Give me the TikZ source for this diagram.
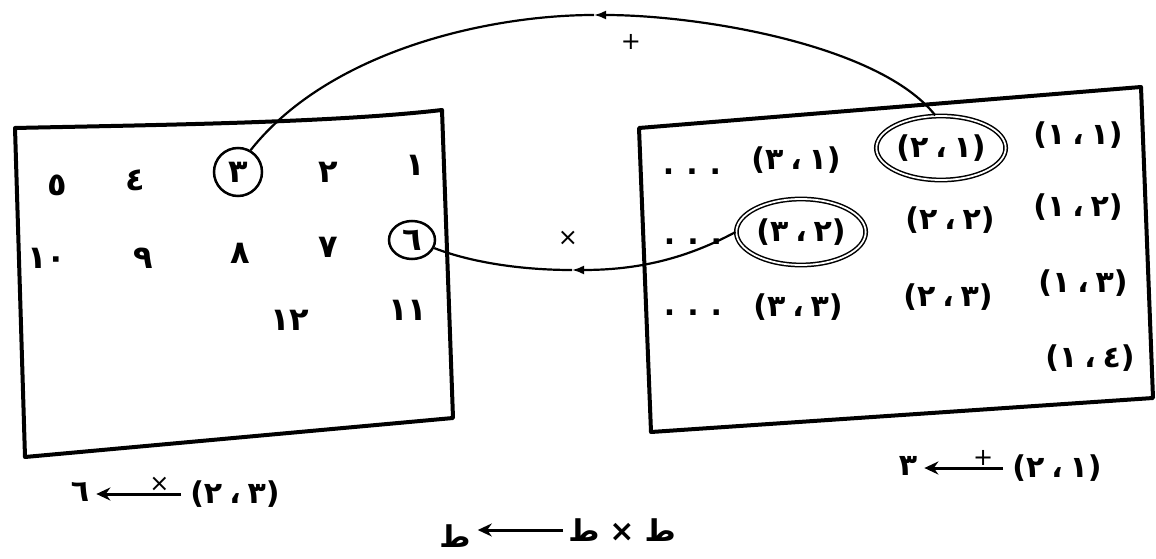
\documentclass[tikz,border=0pt]{standalone}
\usepackage{fontspec}
\usetikzlibrary{shapes.geometric,arrows.meta}
\newfontfamily\arfont[Script=Arabic]{DejaVu Sans}
\TeXXeTstate=1
% #1 = left digit as seen, #2 = right digit as seen (logical order: #2 then #1)
\newcommand\mypair[2]{\beginR(#2\hspace{7pt}،\hspace{7pt}#1)\endR}
\begin{document}
\begin{tikzpicture}[x=1pt,y=-1pt,
  lbl/.style={font=\arfont\bfseries\fontsize{30}{32}\selectfont, inner sep=1pt},
  num/.style={font=\arfont\bfseries\fontsize{32}{34}\selectfont, inner sep=1pt},
  op/.style={font=\arfont\fontsize{24}{26}\selectfont, inner sep=1pt},
  frame/.style={line width=4pt, line join=round},
  conn/.style={line width=2.2pt},
  ring/.style={draw, ellipse, double, double distance=1.8pt, line width=1.5pt},
  lab/.style={line width=3pt, -{Stealth[length=14pt,width=13pt]}},
  tipc/.style={-{Latex[length=12pt,width=9pt]}}
]
\useasboundingbox (0,0) rectangle (1156,559);
\fill[white] (0,0) rectangle (1156,559);

% frames
\draw[frame] (15,128) .. controls (150,125) and (330,123) .. (442,110) -- (453,418) -- (25,457) -- cycle;
\draw[frame] (639,128) -- (1141,87) -- (1153,398) -- (651,432) -- cycle;

% left set
\node[num] (d1) at (415,165) {١};
\node[num] (d2) at (328,172) {٢};
\node[num, draw, circle, line width=2.5pt, minimum size=48pt] (n3) at (238,172) {٣};
\node[num] (d4) at (135,180) {٤};
\node[num] (d5) at (57,185) {٥};
\node[num, draw, ellipse, line width=2.5pt, minimum width=46pt, minimum height=38pt] (n6) at (412,240) {٦};
\node[num] (d7) at (328,247) {٧};
\node[num] (d8) at (240,253) {٨};
\node[num] (d9) at (143,258) {٩};
\node[num] (d10) at (47,258) {١٠};
\node[num] (d11) at (408,310) {١١};
\node[num] (d12) at (290,320) {١٢};

% right set
\node[lbl] (p11) at (1078,135) {\mypair{١}{١}};
\node[lbl, ring, minimum width=118pt, minimum height=64pt] (p21) at (941,148) {\mypair{٢}{١}};
\node[lbl] (p31) at (796,160) {\mypair{٣}{١}};
\node[lbl] (e1) at (692,172) {.\hspace{12pt}.\hspace{12pt}.};
\node[lbl] (p12) at (1078,207) {\mypair{١}{٢}};
\node[lbl] (p22) at (950,220) {\mypair{٢}{٢}};
\node[lbl, ring, minimum width=118pt, minimum height=66pt] (p32) at (801,232) {\mypair{٣}{٢}};
\node[lbl] (e2) at (693,242) {.\hspace{12pt}.\hspace{12pt}.};
\node[lbl] (p13) at (1083,283) {\mypair{١}{٣}};
\node[lbl] (p23) at (948,297) {\mypair{٢}{٣}};
\node[lbl] (p33) at (798,307) {\mypair{٣}{٣}};
\node[lbl] (e3) at (693,313) {.\hspace{12pt}.\hspace{12pt}.};
\node[lbl] (p14) at (1090,358) {\mypair{١}{٤}};

% connectors
\coordinate (apex) at (594,15);
\draw[conn, tipc] (p21.100) .. controls (880,45) and (700,15) .. (apex);
\draw[conn] (apex) .. controls (490,15) and (330,50) .. (n3.60);
\node[op] (plus) at (631,42) {+};

\coordinate (low) at (572,270);
\draw[conn, tipc] (p32.west) .. controls (680,262) and (630,270) .. (low);
\draw[conn] (low) .. controls (520,270) and (470,262) .. (n6.-20);
\node[op] (times) at (568,238) {×};

% bottom labels
\node[lbl] (r6) at (80,492) {٦};
\node[lbl] (q23) at (235,494) {\mypair{٢}{٣}};
\draw[lab, shorten <=8pt, shorten >=6pt] (q23.west) -- (q23.west -| r6.east) node[op, pos=0.3, above=0pt] {×};

\node[lbl] (r3) at (908,466) {٣};
\node[lbl] (q21) at (1057,468) {\mypair{٢}{١}};
\draw[lab, shorten <=8pt, shorten >=6pt] (q21.west) -- (q21.west -| r3.east) node[op, pos=0.3, above=0pt] {+};

\node[lbl] (t1) at (455,536) {ط};
\node[lbl] (t2) at (622,530) {ط\hspace{10pt}×\hspace{10pt}ط};
\draw[lab, shorten <=4pt, shorten >=6pt] (t2.west) -- (t2.west -| t1.east);
\end{tikzpicture}
\end{document}
